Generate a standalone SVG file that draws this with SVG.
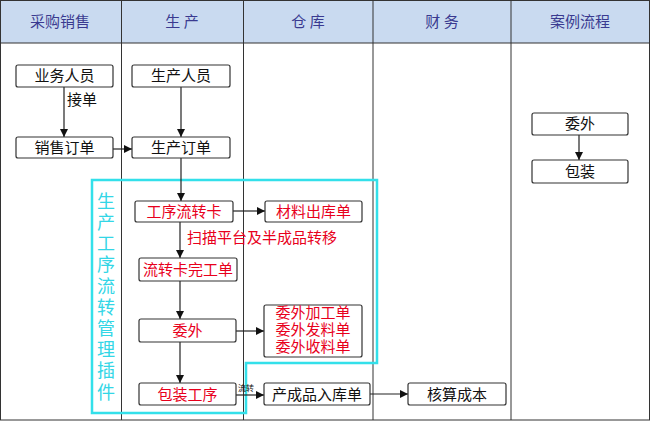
<svg xmlns="http://www.w3.org/2000/svg" width="650" height="423" viewBox="0 0 650 423">
<style>
.hd{font-family:"Noto Sans CJK SC","Liberation Sans",sans-serif;font-size:15px;fill:#3a3a90;text-anchor:middle}
.box{fill:#fff;stroke:#333;stroke-width:1.2}
.t{font-family:"Noto Sans CJK SC","Liberation Sans",sans-serif;font-size:15px;fill:#111;text-anchor:middle}
.r{fill:#e8001c}
.ln{stroke:#222;stroke-width:1.2;fill:none}
.col{stroke:#333;stroke-width:1}
</style>
<defs>
<marker id="ah" viewBox="0 0 10 10" refX="10" refY="5" markerWidth="8" markerHeight="8" markerUnits="userSpaceOnUse" orient="auto">
<path d="M0,0 L10,5 L0,10 Z" fill="#111"/>
</marker>
</defs>
<rect width="650" height="423" fill="#fff"/>
<g id="lanes">
<rect x="0.5" y="0.5" width="649" height="42.5" fill="#c9daf0"/>
<rect x="0.5" y="0.5" width="649" height="419.5" fill="none" stroke="#333" stroke-width="1"/>
<line class="col" x1="0" y1="43" x2="650" y2="43"/>
<line class="col" x1="121.5" y1="0" x2="121.5" y2="420"/>
<line class="col" x1="243.5" y1="0" x2="243.5" y2="420"/>
<line class="col" x1="373" y1="0" x2="373" y2="420"/>
<line class="col" x1="511" y1="0" x2="511" y2="420"/>
<text class="hd" x="60" y="27">采购销售</text>
<text class="hd" x="182" y="27">生 产</text>
<text class="hd" x="308" y="27">仓 库</text>
<text class="hd" x="442" y="27">财 务</text>
<text class="hd" x="580" y="27">案例流程</text>
</g>
<g id="plugin">
<path d="M92,180 H377 V363 H246 V413 H92 Z" fill="none" stroke="#33e0ea" stroke-width="2.5"/>
<text x="106" y="192" font-family="Noto Sans CJK SC,Liberation Sans,sans-serif" font-size="18" fill="#33d6e6" style="writing-mode:vertical-rl;letter-spacing:3.2px">生产工序流转管理插件</text>
</g>
<g id="connectors">
<line class="ln" x1="64" y1="87" x2="64" y2="137" marker-end="url(#ah)"/>
<line class="ln" x1="113" y1="149" x2="132" y2="149" marker-end="url(#ah)"/>
<line class="ln" x1="181" y1="87" x2="181" y2="137" marker-end="url(#ah)"/>
<line class="ln" x1="181" y1="158" x2="181" y2="201" marker-end="url(#ah)"/>
<line class="ln" x1="233" y1="211" x2="265" y2="211" marker-end="url(#ah)"/>
<line class="ln" x1="180" y1="222" x2="180" y2="258" marker-end="url(#ah)"/>
<line class="ln" x1="180" y1="281" x2="180" y2="319" marker-end="url(#ah)"/>
<line class="ln" x1="236" y1="331" x2="264" y2="331" marker-end="url(#ah)"/>
<line class="ln" x1="180" y1="342" x2="180" y2="383" marker-end="url(#ah)"/>
<line class="ln" x1="236" y1="395" x2="264" y2="395" marker-end="url(#ah)"/>
<line class="ln" x1="370" y1="394" x2="408" y2="394" marker-end="url(#ah)"/>
<line class="ln" x1="579" y1="135" x2="579" y2="160" marker-end="url(#ah)"/>
<text class="t" x="82" y="105">接单</text>
<text class="t r" x="262" y="243">扫描平台及半成品转移</text>
<text font-family="Noto Sans CJK SC,Liberation Sans,sans-serif" font-size="8" fill="#111" x="238" y="391">流转</text>
</g>
<g id="n1"><rect class="box" x="16" y="65" width="97" height="22" rx="2"/><text class="t" x="64.5" y="81">业务人员</text></g>
<g id="n2"><rect class="box" x="16" y="137" width="97" height="21" rx="2"/><text class="t" x="64.5" y="153">销售订单</text></g>
<g id="n3"><rect class="box" x="132" y="65" width="98" height="22" rx="2"/><text class="t" x="181" y="81">生产人员</text></g>
<g id="n4"><rect class="box" x="132" y="137" width="98" height="21" rx="2"/><text class="t" x="181" y="153">生产订单</text></g>
<g id="n5"><rect class="box" x="135" y="201" width="98" height="21" rx="2"/><text class="t r" x="184" y="217">工序流转卡</text></g>
<g id="n6"><rect class="box" x="265" y="201" width="97" height="21" rx="2"/><text class="t r" x="313.5" y="217">材料出库单</text></g>
<g id="n7"><rect class="box" x="139" y="258" width="98" height="23" rx="2"/><text class="t r" x="188" y="275">流转卡完工单</text></g>
<g id="n8"><rect class="box" x="139" y="319" width="97" height="23" rx="2"/><text class="t r" x="187.5" y="336">委外</text></g>
<g id="n9"><rect class="box" x="264" y="305" width="98" height="52" rx="2"/><text class="t r" x="313" y="318"><tspan x="313" y="318">委外加工单</tspan><tspan x="313" y="335">委外发料单</tspan><tspan x="313" y="352">委外收料单</tspan></text></g>
<g id="n10"><rect class="box" x="139" y="383" width="97" height="22" rx="2"/><text class="t r" x="187.5" y="400">包装工序</text></g>
<g id="n11"><rect class="box" x="264" y="383" width="106" height="22" rx="2"/><text class="t" x="317" y="400">产成品入库单</text></g>
<g id="n12"><rect class="box" x="408" y="383" width="98" height="22" rx="2"/><text class="t" x="457" y="400">核算成本</text></g>
<g id="n13"><rect class="box" x="532" y="113" width="96" height="22" rx="2"/><text class="t" x="580" y="129">委外</text></g>
<g id="n14"><rect class="box" x="532" y="160" width="96" height="23" rx="2"/><text class="t" x="580" y="177">包装</text></g>
</svg>
